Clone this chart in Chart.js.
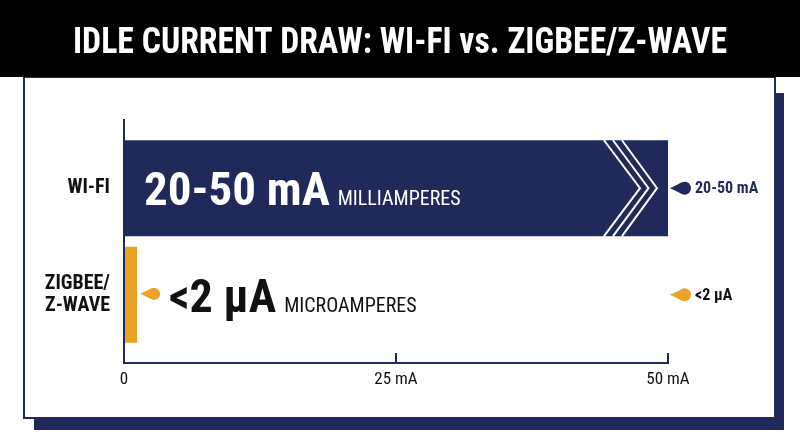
<!DOCTYPE html>
<html>
<head>
<meta charset="utf-8">
<script src="https://cdn.jsdelivr.net/npm/chart.js@4.4.1/dist/chart.umd.min.js"></script>
<style>
  html, body { margin: 0; padding: 0; background: #fff; }
</style>
</head>
<body>
<canvas id="mainChart" width="800" height="447"></canvas>
<script>
const chartTitle = 'IDLE CURRENT DRAW: WI-FI vs. ZIGBEE/Z-WAVE';
const categories = ['WI-FI', ['ZIGBEE/', 'Z-WAVE']];
const barValues = [50, 1.2];            // mA (the zigbee bar is only a sliver)
const bigLabels = ['20-50 mA', '<2 µA'];
const unitLabels = ['MILLIAMPERES', 'MICROAMPERES'];
const endLabels = ['20-50 mA', '<2 µA'];
const xTickValues = [0, 25, 50];
const xTickLabels = ['0', '25 mA', '50 mA'];

const NAVY = '#1f2a5a';
const ORANGE = '#e9a126';
const INK = '#111111';
const FONT = '"Liberation Sans Narrow", "Roboto Condensed", "DejaVu Sans Condensed", sans-serif';

// teardrop marker pointing left
function drawDrop(ctx, tipX, cy, r, color) {
    const cx = tipX + r + 8;
    ctx.fillStyle = color;
    ctx.beginPath();
    ctx.moveTo(tipX, cy);
    ctx.quadraticCurveTo(cx - r - 2, cy - 2.5, cx + r * Math.cos(-2.0), cy + r * Math.sin(-2.0));
    ctx.arc(cx, cy, r, -2.0, 2.0);
    ctx.quadraticCurveTo(cx - r - 2, cy + 2.5, tipX, cy);
    ctx.fill();
}

const framePlugin = {
    id: 'frame',
    beforeDraw(chart) {
        const ctx = chart.ctx;
        ctx.save();
        ctx.fillStyle = '#fff';
        ctx.fillRect(0, 0, chart.width, chart.height);
        // shadow
        ctx.fillStyle = NAVY;
        ctx.fillRect(34, 93, 750, 337);
        // card
        ctx.fillStyle = '#fff';
        ctx.fillRect(24, 77, 751, 341);
        ctx.strokeStyle = NAVY;
        ctx.lineWidth = 2;
        ctx.strokeRect(24, 77, 751, 341);
        // header
        ctx.fillStyle = '#000';
        ctx.fillRect(0, 0, chart.width, 77);
        ctx.fillStyle = '#fff';
        ctx.font = 'bold 36px ' + FONT;
        ctx.textAlign = 'center';
        ctx.textBaseline = 'alphabetic';
        ctx.fillText(chartTitle, 400, 53, 654);
        ctx.restore();
    }
};

const barTextPlugin = {
    id: 'barText',
    afterDatasetsDraw(chart) {
        const ctx = chart.ctx;
        const xs = chart.scales.x;
        const endX = xs.getPixelForValue(xs.max);
        const meta = chart.getDatasetMeta(0);
        ctx.save();
        ctx.textBaseline = 'alphabetic';
        ctx.textAlign = 'left';
        meta.data.forEach((bar, i) => {
            const { x, y, base, height } = bar.getProps(['x', 'y', 'base', 'height'], true);
            const top = y - height / 2, bottom = y + height / 2;
            let textX, color, bigSize;
            if (i === 0) {
                // chevrons at the end of the wifi bar
                ctx.strokeStyle = '#fff';
                ctx.lineWidth = 2;
                const topOff = [-64, -55, -46];
                const tipOff = [-28, -19.5, -11];
                for (let k = 0; k < 3; k++) {
                    ctx.beginPath();
                    ctx.moveTo(x + topOff[k], top);
                    ctx.lineTo(x + tipOff[k], y);
                    ctx.lineTo(x + topOff[k], bottom);
                    ctx.stroke();
                }
                textX = base + 19;
                color = '#fff';
                bigSize = 47;
            } else {
                drawDrop(ctx, x + 3, y - 1, 6, ORANGE);
                textX = x + 32;
                color = INK;
                bigSize = 46;
            }
            ctx.fillStyle = color;
            ctx.font = 'bold ' + bigSize + 'px ' + FONT;
            ctx.fillText(bigLabels[i], textX, y + 17);
            const w = ctx.measureText(bigLabels[i]).width;
            ctx.font = '20px ' + FONT;
            ctx.fillText(unitLabels[i], textX + w + 8, y + 17);

            // end labels right of the plot
            drawDrop(ctx, endX + 2, y, 6.5, i === 0 ? NAVY : ORANGE);
            ctx.fillStyle = i === 0 ? NAVY : INK;
            ctx.font = 'bold 16px ' + FONT;
            ctx.textBaseline = 'middle';
            ctx.fillText(endLabels[i], endX + 27, y + 1);
            ctx.textBaseline = 'alphabetic';
        });
        ctx.restore();
    }
};

const ctx = document.getElementById('mainChart').getContext('2d');

new Chart(ctx, {
    type: 'bar',
    data: {
        datasets: [{
            data: categories.map((c, i) => ({ x: barValues[i], y: i })),
            backgroundColor: [NAVY, ORANGE],
            borderWidth: 0,
            barPercentage: 0.9,
            categoryPercentage: 1
        }]
    },
    options: {
        indexAxis: 'y',
        responsive: false,
        animation: false,
        layout: {
            padding: { top: 120, right: 132, bottom: 0, left: 0 }
        },
        plugins: {
            legend: { display: false },
            tooltip: { enabled: false }
        },
        scales: {
            x: {
                type: 'linear',
                min: 0,
                max: 50,
                afterBuildTicks: (scale) => {
                    scale.ticks = xTickValues.map(v => ({ value: v }));
                },
                afterFit: (scale) => { scale.height = 84; },
                grid: {
                    drawOnChartArea: false,
                    color: NAVY,
                    lineWidth: 2,
                    tickLength: -10
                },
                border: { color: NAVY, width: 2 },
                ticks: {
                    padding: 17,
                    color: INK,
                    maxRotation: 0,
                    font: { family: FONT, size: 17 },
                    callback: (value) => xTickLabels[xTickValues.indexOf(value)]
                }
            },
            y: {
                type: 'linear',
                reverse: true,
                offset: false,
                min: -0.64,
                max: 1.64,
                z: 1,
                afterBuildTicks: (scale) => {
                    scale.ticks = categories.map((c, i) => ({ value: i }));
                },
                afterFit: (scale) => { scale.width = 124; },
                grid: { display: false, drawTicks: false, offset: false },
                border: { color: NAVY, width: 2 },
                ticks: {
                    padding: 14,
                    color: INK,
                    font: { family: FONT, size: 20, weight: 'bold', lineHeight: 1.1 },
                    callback: (value) => categories[value]
                }
            }
        }
    },
    plugins: [framePlugin, barTextPlugin]
});
</script>
</body>
</html>
